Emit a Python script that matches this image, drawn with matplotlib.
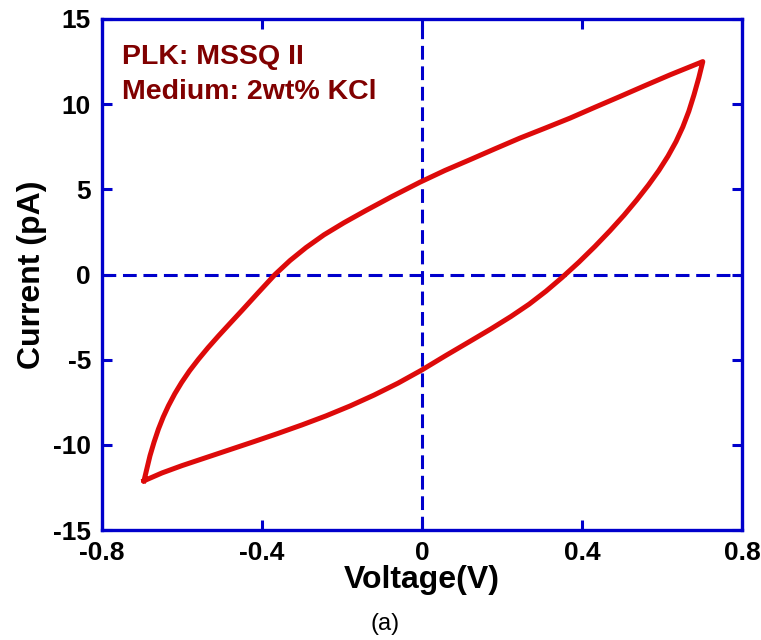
import matplotlib
matplotlib.use('agg')
import matplotlib.pyplot as plt

plt.rcParams['font.family'] = ['Liberation Sans', 'DejaVu Sans']
plt.rcParams['axes.unicode_minus'] = False

BLUE = '#0000CC'
RED = '#DD0A0A'
DARK_RED = '#800000'

# upper branch: sweep from -0.7 V up to +0.7 V
v_up = [-0.695, -0.688, -0.680, -0.670, -0.659, -0.647, -0.634, -0.618, -0.601,
        -0.581, -0.559, -0.535, -0.509, -0.480, -0.450, -0.410, -0.3675, -0.33,
        -0.29, -0.245, -0.195, -0.14, -0.075, -0.005, 0.0575, 0.12, 0.1825,
        0.245, 0.3075, 0.37, 0.4325, 0.495, 0.5575, 0.62, 0.702]
i_up = [-12.11, -11.42, -10.64, -9.85, -9.08, -8.37, -7.71, -7.00, -6.34,
        -5.65, -4.98, -4.30, -3.61, -2.87, -2.11, -1.08, 0.0, 0.82,
        1.58, 2.33, 3.04, 3.76, 4.58, 5.42, 6.11, 6.74, 7.38,
        8.01, 8.59, 9.18, 9.82, 10.45, 11.09, 11.72, 12.50]

# lower branch: sweep back from +0.7 V to -0.7 V
v_down = [0.702, 0.692, 0.680, 0.667, 0.652, 0.635, 0.615, 0.592, 0.566,
          0.537, 0.505, 0.470, 0.432, 0.392, 0.350, 0.310, 0.268, 0.222,
          0.172, 0.118, 0.060, 0.0, -0.06, -0.12, -0.18, -0.24, -0.30,
          -0.36, -0.42, -0.48, -0.54, -0.60, -0.65, -0.695]
i_down = [12.50, 11.55, 10.55, 9.58, 8.66, 7.80, 6.95, 6.10, 5.25,
          4.38, 3.48, 2.57, 1.64, 0.72, -0.18, -0.98, -1.74, -2.47,
          -3.20, -3.95, -4.75, -5.60, -6.38, -7.08, -7.72, -8.30, -8.83,
          -9.33, -9.81, -10.28, -10.75, -11.22, -11.65, -12.11]

x_ticks = [-0.8, -0.4, 0, 0.4, 0.8]
x_labels = ['-0.8', '-0.4', '0', '0.4', '0.8']
y_ticks = [-15, -10, -5, 0, 5, 10, 15]

fig = plt.figure(figsize=(7.61, 6.4), dpi=100)
ax = fig.add_axes([102 / 761, 110 / 640, 640 / 761, 511 / 640])

ax.axhline(0, color=BLUE, lw=2.2, dashes=(4.5, 2.2), zorder=1)
ax.axvline(0, color=BLUE, lw=2.2, dashes=(4.5, 2.2), zorder=1)

ax.plot(v_up + v_down, i_up + i_down, color=RED, lw=3.6, zorder=2,
        solid_joinstyle='round')

ax.set_xlim(-0.8, 0.8)
ax.set_ylim(-15, 15)
ax.set_xticks(x_ticks)
ax.set_xticklabels(x_labels)
ax.set_yticks(y_ticks)

for s in ax.spines.values():
    s.set_color(BLUE)
    s.set_linewidth(2.4)
ax.tick_params(direction='in', length=7, width=2.2, color=BLUE,
               top=True, right=True, labelsize=19, pad=8)
for lab in ax.get_xticklabels() + ax.get_yticklabels():
    lab.set_fontweight('bold')

ax.set_xlabel('Voltage(V)', fontsize=23, fontweight='bold', labelpad=0)
ax.set_ylabel('Current (pA)', fontsize=23, fontweight='bold', labelpad=4)

ax.text(0.031, 0.912, 'PLK: MSSQ II', transform=ax.transAxes, color=DARK_RED,
        fontsize=20.5, fontweight='bold')
ax.text(0.031, 0.843, 'Medium: 2wt% KCl', transform=ax.transAxes, color=DARK_RED,
        fontsize=20.5, fontweight='bold')

fig.text(385 / 761, 1 - 624 / 640, '(a)', fontsize=17, ha='center', va='center')

fig.savefig('out.png', dpi=100)
